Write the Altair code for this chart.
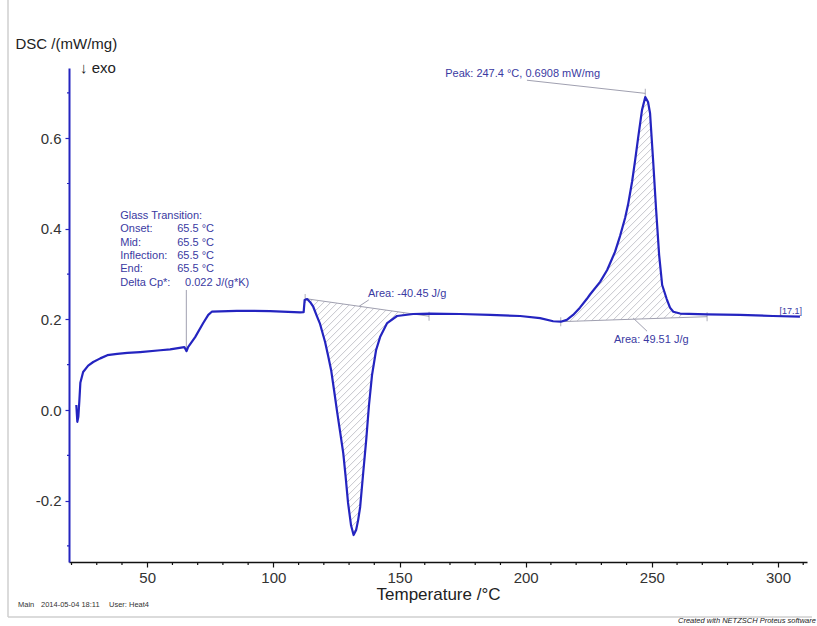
import altair as alt
import numpy as np
import pandas as pd

# ---------------- data ----------------
temperature = [21.9, 22.3, 22.7, 23.1, 23.5, 24.6, 26.6, 28.6, 31.4, 34.2, 38.1, 42.1,
               47.2, 55.2, 59.1, 64.7, 65.6, 66.2, 69.0, 72.2, 74.2, 75.6, 85.5, 98.7,
               110.6, 112.0, 112.4, 113.4, 114.6, 115.8, 117.2, 118.5, 120.5, 121.7,
               122.9, 124.1, 125.3, 126.5, 127.7, 128.6, 129.6, 130.8, 131.8, 132.8,
               133.6, 134.4, 135.6, 136.8, 137.9, 139.1, 140.7, 142.3, 145.1, 149.0,
               155.4, 162.1, 174.0, 185.9, 197.8, 205.7, 210.9, 213.9, 216.3, 218.8,
               221.5, 224.2, 225.5, 229.5, 232.3, 235.4, 237.4, 239.4, 240.6, 242.2,
               243.4, 244.5, 246.1, 247.4, 248.5, 249.3, 250.5, 251.7, 252.9, 254.1,
               255.9, 257.2, 258.5, 261.2, 271.9, 284.9, 298.0, 308.7]
dsc = [0.011, -0.026, -0.015, 0.020, 0.060, 0.084, 0.098, 0.106, 0.114, 0.121, 0.124, 0.126,
       0.128, 0.132, 0.134, 0.139, 0.130, 0.139, 0.161, 0.192, 0.210, 0.217, 0.219, 0.2185,
       0.2156, 0.216, 0.243, 0.245, 0.238, 0.228, 0.208, 0.190, 0.150, 0.120,
       0.088, 0.042, -0.005, -0.050, -0.095, -0.145, -0.205, -0.255, -0.276, -0.265,
       -0.243, -0.214, -0.139, -0.066, 0.011, 0.077, 0.132, 0.161, 0.192, 0.2075,
       0.212, 0.213, 0.212, 0.210, 0.2075, 0.203, 0.196, 0.195, 0.199, 0.210,
       0.226, 0.245, 0.255, 0.283, 0.309, 0.349, 0.384, 0.424, 0.454, 0.505,
       0.552, 0.598, 0.662, 0.6908, 0.680, 0.655, 0.552, 0.442, 0.342, 0.276,
       0.245, 0.226, 0.217, 0.213, 0.211, 0.210, 0.2075, 0.206]

# integration baselines (start T, start v, end T, end v)
exo_base = [112.6, 0.246, 161.7, 0.207]
endo_base = [213.9, 0.195, 271.9, 0.206]

glass_labels = ["Glass Transition:", "Onset:", "Mid:", "Inflection:", "End:", "Delta Cp*:"]
glass_values = ["", "65.5 °C", "65.5 °C", "65.5 °C", "65.5 °C", "0.022 J/(g*K)"]
glass_tg = 65.5

peak_text = "Peak: 247.4 °C, 0.6908 mW/mg"
exo_text = "Area: -40.45 J/g"
endo_text = "Area: 49.51 J/g"

x_major = [50, 100, 150, 200, 250, 300]
x_minor = [t for t in range(20, 311, 10) if t % 50 != 0]
y_major = [-0.2, 0.0, 0.2, 0.4, 0.6]
y_minor = [-0.3, -0.1, 0.1, 0.3, 0.5, 0.7]

# ---------------- geometry ----------------
X_MIN, X_MAX = 19.0, 311.5
Y_MIN, Y_MAX = -0.3355, 0.755
W, H = 738, 494
PX_T = W / (X_MAX - X_MIN)
PX_V = H / (Y_MAX - Y_MIN)

FONT = "Liberation Sans"
BLUE = "#2424c0"
TXT_BLUE = "#3a3aa2"
GRAY = "#a0a0b0"

xs = alt.Scale(domain=[X_MIN, X_MAX], nice=False, zero=False)
ys = alt.Scale(domain=[Y_MIN, Y_MAX], nice=False, zero=False)


def hatch(base, lo, hi, spacing_px=7.0):
    T = np.linspace(lo, hi, 4000)
    c = np.interp(T, temperature, dsc)
    b = np.interp(T, [base[0], base[2]], [base[1], base[3]])
    lower, upper = np.minimum(c, b), np.maximum(c, b)
    k = PX_T / PX_V
    step = spacing_px / PX_V
    rows = []
    bmin, bmax = (lower - k * T).min(), (upper - k * T).max()
    for bi in np.arange(bmin + step / 2, bmax, step):
        lv = k * T + bi
        inside = (lv >= lower) & (lv <= upper)
        idx = np.where(inside)[0]
        if len(idx) < 2:
            continue
        splits = np.where(np.diff(idx) > 1)[0]
        starts = np.concatenate([[0], splits + 1])
        ends = np.concatenate([splits, [len(idx) - 1]])
        for s, e in zip(starts, ends):
            i0, i1 = idx[s], idx[e]
            if i1 - i0 < 3:
                continue
            rows.append({"T1": T[i0], "v1": lv[i0], "T2": T[i1], "v2": lv[i1]})
    return rows


hatch_df = pd.DataFrame(hatch(exo_base, exo_base[0], exo_base[2]) +
                        hatch(endo_base, endo_base[0], 262.0))

curve_df = pd.DataFrame({"T": temperature, "DSC": dsc, "i": range(len(temperature))})

x_axis = alt.Axis(
    values=x_major, format="d", tickSize=5,
    tickColor="#111111", domainColor="#111111", domainWidth=1.5, tickWidth=1.2,
    labelFont=FONT, labelFontSize=15, labelColor="#333333", labelPadding=3,
    labelOverlap=False, labelFlush=False,
    title="Temperature /°C", titleFont=FONT, titleFontSize=17, titleFontWeight="normal",
    titleColor="#222222", titleBaseline="middle", titleY=32, grid=False,
)
y_axis = alt.Axis(
    values=y_major,
    labelExpr="datum.value < 0 ? '-' + format(-datum.value, '.1f') : format(datum.value, '.1f')",
    tickSize=4, tickColor=BLUE, domainColor=BLUE, domainWidth=2, tickWidth=1.2,
    labelFont=FONT, labelFontSize=15, labelColor="#333333", labelPadding=4,
    labelOverlap=False, labelFlush=False,
    title="DSC /(mW/mg)", titleFont=FONT, titleFontSize=15, titleFontWeight="normal",
    titleColor="#222222", titleAngle=0, titleAlign="left", titleBaseline="middle",
    titleX=-54, titleY=-25, grid=False,
)

hatch_layer = alt.Chart(hatch_df).mark_rule(color="#b8b8c0", strokeWidth=0.8).encode(
    x=alt.X("T1:Q", scale=xs), y=alt.Y("v1:Q", scale=ys), x2="T2:Q", y2="v2:Q")

lines_df = pd.DataFrame([
    {"T1": exo_base[0], "v1": exo_base[1], "T2": exo_base[2], "v2": exo_base[3]},
    {"T1": endo_base[0], "v1": endo_base[1], "T2": endo_base[2], "v2": endo_base[3]},
    {"T1": glass_tg, "v1": 0.265, "T2": glass_tg, "v2": 0.128},
    {"T1": 200.5, "v1": 0.728, "T2": 247.4, "v2": 0.699},
    {"T1": 137.8, "v1": 0.243, "T2": 134.0, "v2": 0.229},
    {"T1": 242.6, "v1": 0.203, "T2": 248.1, "v2": 0.174},
])
lines_layer = alt.Chart(lines_df).mark_rule(color=GRAY, strokeWidth=1).encode(
    x=alt.X("T1:Q", scale=xs), y=alt.Y("v1:Q", scale=ys), x2="T2:Q", y2="v2:Q")

marks_df = pd.DataFrame({"T": [exo_base[0], exo_base[2], endo_base[0], endo_base[2], 247.4],
                         "v": [exo_base[1], exo_base[3], endo_base[1], endo_base[3], 0.699]})
marks_layer = alt.Chart(marks_df).mark_tick(orient="vertical", size=9, thickness=1,
                                            color="#8a8a9a").encode(
    x=alt.X("T:Q", scale=xs), y=alt.Y("v:Q", scale=ys))

# minor ticks on both axes
xminor_layer = alt.Chart(pd.DataFrame({"T": x_minor})).mark_rule(
    color="#111111", strokeWidth=1.2).encode(
    x=alt.X("T:Q", scale=xs), y=alt.value(H), y2=alt.value(H + 3))
yminor_layer = alt.Chart(pd.DataFrame({"v": y_minor})).mark_rule(
    color=BLUE, strokeWidth=1.2).encode(
    y=alt.Y("v:Q", scale=ys), x=alt.value(0), x2=alt.value(-2))

curve_layer = alt.Chart(curve_df).mark_line(color=BLUE, strokeWidth=2.2,
                                            strokeJoin="round").encode(
    x=alt.X("T:Q", scale=xs, axis=x_axis),
    y=alt.Y("DSC:Q", scale=ys, axis=y_axis),
    order="i:Q")

# annotation texts in data coordinates
glass_rows = []
for i, (lab, val) in enumerate(zip(glass_labels, glass_values)):
    vv = 0.428 - i * 0.0294
    glass_rows.append({"T": 39.3, "v": vv, "text": lab})
    if val:
        glass_rows.append({"T": 65.0 if i == 5 else 61.9, "v": vv, "text": val})
ann_rows = glass_rows + [
    {"T": 168.1, "v": 0.742, "text": peak_text},
    {"T": 137.5, "v": 0.256, "text": exo_text},
    {"T": 235.0, "v": 0.155, "text": endo_text},
]
ann_layer = alt.Chart(pd.DataFrame(ann_rows)).mark_text(
    align="left", baseline="middle", font=FONT, fontSize=11, color=TXT_BLUE).encode(
    x=alt.X("T:Q", scale=xs), y=alt.Y("v:Q", scale=ys), text="text:N")

seg_layer = alt.Chart(pd.DataFrame({"T": [309.5], "v": [0.2185], "text": ["[17.1]"]})).mark_text(
    align="right", baseline="middle", font=FONT, fontSize=9, color=TXT_BLUE).encode(
    x=alt.X("T:Q", scale=xs), y=alt.Y("v:Q", scale=ys), text="text:N")

# texts placed in the page margins
exo_lbl = alt.Chart(pd.DataFrame({"t": ["↓ exo"]})).mark_text(
    align="left", baseline="middle", font=FONT, fontSize=15, color="#222222").encode(
    x=alt.value(11), y=alt.value(0), text="t:N")

foot_df = pd.DataFrame({"t": ["Main", "2014-05-04 18:11", "User: Heat4"],
                        "px": [-51, -28, 40]})
foot_layer = alt.Chart(foot_df).mark_text(
    align="left", baseline="middle", font=FONT, fontSize=7.5, color="#333333").encode(
    x=alt.X("px:Q", scale=None), y=alt.value(537), text="t:N")

credit = alt.Chart(pd.DataFrame({"t": ["Created with NETZSCH Proteus software"]})).mark_text(
    align="left", baseline="middle", font=FONT, fontSize=7.5, fontStyle="italic",
    color="#222222", limit=140, ellipsis="").encode(
    x=alt.value(609), y=alt.value(553), text="t:N")

frame_df = pd.DataFrame({"a": [0]})
frame_left = alt.Chart(frame_df).mark_rule(color="#cfcfcf", strokeWidth=1.5).encode(
    x=alt.value(-61), y=alt.value(-68), y2=alt.value(549))
frame_bottom = alt.Chart(frame_df).mark_rule(color="#cfcfcf", strokeWidth=1.5).encode(
    x=alt.value(-61), x2=alt.value(743), y=alt.value(549))

chart = alt.layer(
    frame_left, frame_bottom, hatch_layer, lines_layer, marks_layer,
    xminor_layer, yminor_layer, curve_layer,
    ann_layer, seg_layer, exo_lbl, foot_layer, credit,
).properties(
    width=W, height=H,
    padding={"left": 69, "top": 68, "right": 10, "bottom": 64},
    autosize=alt.AutoSizeParams(type="none"),
    background="white",
).configure_view(stroke=None)

chart.save("out.html", embed_options={"renderer": "svg", "actions": False})
